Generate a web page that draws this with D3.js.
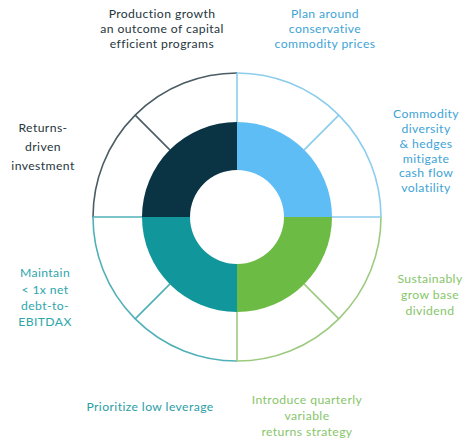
<!DOCTYPE html>
<html lang="en">
<head>
    <meta charset="UTF-8">
    <title>Capital allocation wheel</title>
    <script src="https://cdn.jsdelivr.net/npm/d3@7"></script>
    <style>
        body {
            margin: 0;
            background-color: #ffffff;
            font-family: Lato, "Open Sans", sans-serif;
        }
    </style>
</head>
<body>
    <svg id="main" width="467" height="443"></svg>
    <script>
        // quadrants, clockwise from 12 o'clock
        let quadrants = ["Plan", "Grow", "Leverage", "Returns"];
        let quadrantValues = [1, 1, 1, 1];
        let quadrantColors = ["#5dbdf4", "#6cbb45", "#11969b", "#0a3444"];
        let ringColors = ["#8ccdee", "#9ccb80", "#4fb0b8", "#4a5c64"];

        // eight outer cells, two per quadrant
        let cellQuadrant = [0, 0, 1, 1, 2, 2, 3, 3];

        // label text (lines), placed by clock angle around the wheel
        let labelLines = [
            ["Production growth", "an outcome of capital", "efficient programs"],
            ["Plan around", "conservative", "commodity prices"],
            ["Commodity", "diversity", "& hedges", "mitigate", "cash flow", "volatility"],
            ["Sustainably", "grow base", "dividend"],
            ["Introduce quarterly", "variable", "returns strategy"],
            ["Prioritize low leverage"],
            ["Maintain", "< 1x net", "debt-to-", "EBITDAX"],
            ["Returns-", "driven", "investment"]
        ];
        let labelColors = ["#26363d", "#3ea3d6", "#3ea3d6", "#86c66a", "#86c66a", "#2b9ea6", "#2ea6ab", "#26363d"];
        let labelX = [162, 325, 426, 430, 307, 150, 45, 43];
        let labelY = [14, 14, 114, 279, 400, 407, 273, 128];
        let labelStep = [14.8, 14.8, 14.8, 15.8, 15.8, 0, 16.3, 19];

        let svg = d3.select("#main");
        let cx = 237, cy = 217;
        let rOuter = 144, rMid = 95, rInner = 47;

        let g = svg.append("g").attr("transform", "translate(" + cx + "," + cy + ")");

        let pie = d3.pie().sort(null).value(d => d);

        // outer ring cells (white)
        let cells = pie(cellQuadrant.map(() => 1));
        let cellArc = d3.arc().innerRadius(rMid).outerRadius(rOuter);
        g.selectAll(".cell")
            .data(cells)
            .enter()
            .append("path")
            .attr("class", "cell")
            .attr("d", cellArc)
            .attr("fill", "white")
            .attr("stroke", "none");

        // outer circle arcs, per quadrant
        let rim = d3.arc().innerRadius(rOuter).outerRadius(rOuter);
        g.selectAll(".rim")
            .data(pie(quadrantValues))
            .enter()
            .append("path")
            .attr("class", "rim")
            .attr("d", rim)
            .attr("fill", "none")
            .attr("stroke", (d, i) => ringColors[i])
            .attr("stroke-width", 1.6);

        // spokes between donut and outer circle
        let spokeAngles = d3.range(8).map(i => i * Math.PI / 4);
        let spokeColors = [ringColors[0], ringColors[0], ringColors[0], ringColors[1],
                           ringColors[1], ringColors[2], ringColors[2], ringColors[3]];
        g.selectAll(".spoke")
            .data(spokeAngles)
            .enter()
            .append("line")
            .attr("class", "spoke")
            .attr("x1", a => Math.sin(a) * rMid)
            .attr("y1", a => -Math.cos(a) * rMid)
            .attr("x2", a => Math.sin(a) * rOuter)
            .attr("y2", a => -Math.cos(a) * rOuter)
            .attr("stroke", (a, i) => spokeColors[i])
            .attr("stroke-width", 1.6);

        // donut quadrants
        let donut = d3.arc().innerRadius(rInner).outerRadius(rMid);
        g.selectAll(".quad")
            .data(pie(quadrantValues))
            .enter()
            .append("path")
            .attr("class", "quad")
            .attr("d", donut)
            .attr("fill", (d, i) => quadrantColors[i]);

        // labels
        let labels = svg.selectAll(".label")
            .data(labelLines)
            .enter()
            .append("text")
            .attr("class", "label")
            .attr("text-anchor", "middle")
            .attr("font-size", "12.2px")
            .attr("letter-spacing", "0.4px")
            .attr("fill", (d, i) => labelColors[i]);

        labels.each(function (lines, i) {
            d3.select(this).selectAll("tspan")
                .data(lines)
                .enter()
                .append("tspan")
                .attr("x", labelX[i])
                .attr("y", (l, j) => labelY[i] + j * labelStep[i])
                .attr("dy", "0.35em")
                .text(l => l);
        });
    </script>
</body>
</html>
